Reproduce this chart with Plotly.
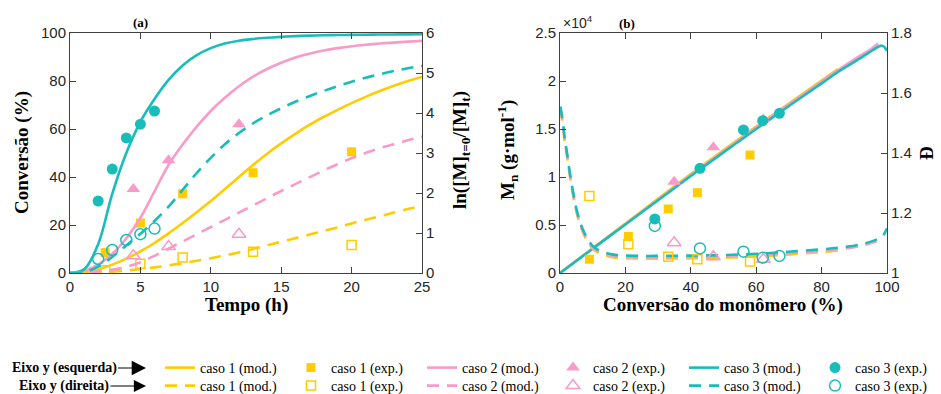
import plotly.graph_objects as go

W, H = 941, 394
YELLOW = '#FFCC00'
PINK = '#F99BC9'
TEAL = '#18BDB9'

# ---------------- Panel (a) data ----------------
t_mod = [0, 1, 2, 3, 4, 5, 6, 7, 8, 9, 10, 11, 12, 13, 14, 15, 16, 17, 18, 19, 20, 21, 22, 23, 24, 25]
# model curves, conversion (%) vs time (h)
c1_mod = [0, 0.3, 1.5, 3.5, 6, 9, 12.5, 16.5, 20.8, 25.3, 30, 35, 40, 45, 49.7, 54, 58, 61.7, 65, 68,
          70.8, 73.4, 75.8, 78, 80, 81.7]
c2_mod = [0, 0.8, 3.5, 8, 14.5, 23, 34, 45, 53.5, 61, 67.5, 73, 77.8, 81.8, 85, 87.6, 89.8, 91.4, 92.7,
          93.7, 94.5, 95.1, 95.6, 96.0, 96.4, 96.7]
c3_mod = [0, 1.5, 12, 33, 50, 63, 72.5, 80.5, 86.5, 90.8, 93.7, 95.6, 96.8, 97.5, 98.0, 98.4, 98.7, 98.9,
          99.05, 99.15, 99.2, 99.3, 99.35, 99.4, 99.42, 99.45]
# model curves, ln([M]0/[M]t) vs time (h)
l1_mod = [0, 0, 0.01, 0.03, 0.06, 0.1, 0.14, 0.19, 0.245, 0.305, 0.37, 0.44, 0.515, 0.6, 0.69, 0.78, 0.87,
          0.96, 1.05, 1.14, 1.24, 1.33, 1.42, 1.51, 1.6, 1.68]
l2_mod = [0, 0.01, 0.04, 0.08, 0.15, 0.27, 0.43, 0.61, 0.79, 0.97, 1.15, 1.33, 1.51, 1.69, 1.87, 2.05, 2.22,
          2.39, 2.56, 2.72, 2.87, 3.0, 3.12, 3.22, 3.32, 3.41]
l3_mod = [0, 0.02, 0.16, 0.4, 0.69, 0.98, 1.3, 1.66, 2.08, 2.5, 2.88, 3.22, 3.5, 3.74, 3.94, 4.12, 4.28,
          4.42, 4.55, 4.67, 4.78, 4.88, 4.97, 5.05, 5.12, 5.18]

# experimental points
t1_exp = [2.5, 5, 8, 13, 20]
c1_exp = [8.5, 20.8, 33, 41.8, 50.5]
l1_exp = [0.07, 0.23, 0.39, 0.53, 0.70]
t2_exp = [4.5, 7, 12]
c2_exp = [35, 47, 62]
l2_exp = [0.43, 0.66, 0.97]
t3_exp = [2, 3, 4, 5, 6]
c3_exp = [30, 43.3, 56.3, 62, 67.5]
l3_exp = [0.35, 0.575, 0.825, 0.97, 1.11]

# ---------------- Panel (b) data ----------------
x1_mn = [0, 20, 40, 60, 85]
mn1_mod = [0, 5150, 10300, 15250, 21250]
x2_mn = [0, 20, 40, 60, 80, 90, 95, 97.3]
mn2_mod = [0, 5100, 10200, 15150, 19950, 22250, 23300, 23900]
x3_mn = [0, 10, 20, 30, 40, 50, 60, 70, 80, 85, 90, 94, 96, 97.5, 98.4, 99.2, 100]
mn3_mod = [0, 2530, 5060, 7580, 10100, 12560, 15000, 17400, 19750, 20950, 22000, 22850, 23300, 23600,
           23680, 23550, 23150]

x1_d = [0.1, 0.5, 1, 1.5, 2, 3, 4, 5, 6, 7, 8, 9, 10, 12, 14, 16, 18, 20, 25, 30, 40, 50, 60, 70, 80, 85]
d1_mod = [1.546, 1.521, 1.481, 1.434, 1.401, 1.326, 1.261, 1.206, 1.166, 1.136, 1.113, 1.095, 1.081,
          1.066, 1.058, 1.053, 1.050, 1.049, 1.048, 1.048, 1.049, 1.051, 1.055, 1.062, 1.070, 1.075]
x2_d = [0.1, 0.5, 1, 1.5, 2, 3, 4, 5, 6, 7, 8, 9, 10, 12, 14, 16, 18, 20, 25, 30, 40, 50, 60, 70, 80, 85,
        90, 93, 96, 97.3]
d2_mod = [1.550, 1.525, 1.485, 1.438, 1.405, 1.330, 1.265, 1.210, 1.170, 1.140, 1.117, 1.099, 1.085,
          1.070, 1.062, 1.057, 1.054, 1.053, 1.052, 1.052, 1.053, 1.055, 1.059, 1.066, 1.074, 1.079,
          1.086, 1.093, 1.103, 1.108]
x3_d = [0.1, 0.5, 1, 1.5, 2, 3, 4, 5, 6, 7, 8, 9, 10, 12, 14, 16, 18, 20, 25, 30, 40, 50, 60, 70, 80,
        85, 90, 93, 96, 98, 99, 100]
d3_mod = [1.555, 1.530, 1.490, 1.443, 1.410, 1.335, 1.270, 1.215, 1.175, 1.145, 1.122, 1.104, 1.090,
          1.075, 1.067, 1.062, 1.059, 1.058, 1.057, 1.057, 1.058, 1.060, 1.064, 1.071, 1.079, 1.084,
          1.091, 1.098, 1.108, 1.118, 1.128, 1.149]

x1_bexp = [9, 20.9, 33.1, 42, 58.1]
mn1_exp = [1430, 3800, 6670, 8370, 12290]
d1_exp = [1.257, 1.096, 1.054, 1.046, 1.038]
x2_bexp = [34.9, 46.9, 62.2]
mn2_exp = [9510, 13090, 16000]
d2_exp = [1.101, 1.054, 1.046]
x3_bexp = [29, 42.8, 56.1, 62, 67.1]
mn3_exp = [5630, 10900, 14900, 15870, 16630]
d3_exp = [1.157, 1.082, 1.071, 1.051, 1.057]

x_ticks_a = [0, 5, 10, 15, 20, 25]
y_ticks_a = [0, 20, 40, 60, 80, 100]
y2_ticks_a = [0, 1, 2, 3, 4, 5, 6]
x_ticks_b = [0, 20, 40, 60, 80, 100]
y_ticks_b = [0, 5000, 10000, 15000, 20000, 25000]
y_ticktext_b = ['0', '0.5', '1', '1.5', '2', '2.5']
y2_ticks_b = [1, 1.2, 1.4, 1.6, 1.8]
y2_ticktext_b = ['1', '1.2', '1.4', '1.6', '1.8']

LW = 2.6
DASH = '12px,8px'

fig = go.Figure()

def line(x, y, color, dash, xa, ya, name, legend, show):
    fig.add_trace(go.Scatter(x=x, y=y, mode='lines', name=name,
                             line=dict(color=color, width=LW, dash=dash, shape='spline', smoothing=1.0),
                             xaxis=xa, yaxis=ya, legend=legend, showlegend=show))

def pts(x, y, color, symbol, size, xa, ya, name, legend, show, open_=False):
    marker = dict(symbol=symbol, size=size, color=color)
    marker['line'] = dict(color=color, width=1.5) if open_ else dict(width=0)
    fig.add_trace(go.Scatter(x=x, y=y, mode='markers', name=name, marker=marker,
                             xaxis=xa, yaxis=ya, legend=legend, showlegend=show))

# Row 1 legend (left axis): solid + filled
line(t_mod, c1_mod, YELLOW, 'solid', 'x', 'y', 'caso 1 (mod.)', 'legend', True)
pts(t1_exp, c1_exp, YELLOW, 'square', 9, 'x', 'y', 'caso 1 (exp.)', 'legend', True)
line(t_mod, c2_mod, PINK, 'solid', 'x', 'y', 'caso 2 (mod.)', 'legend', True)
pts(t2_exp, c2_exp, PINK, 'triangle-up', 12, 'x', 'y', 'caso 2 (exp.)', 'legend', True)
line(t_mod, c3_mod, TEAL, 'solid', 'x', 'y', 'caso 3 (mod.)', 'legend', True)
pts(t3_exp, c3_exp, TEAL, 'circle', 11, 'x', 'y', 'caso 3 (exp.)', 'legend', True)

# Row 2 legend (right axis): dashed + open
line(t_mod, l1_mod, YELLOW, DASH, 'x', 'y2', 'caso 1 (mod.)', 'legend2', True)
pts(t1_exp, l1_exp, YELLOW, 'square-open', 9, 'x', 'y2', 'caso 1 (exp.)', 'legend2', True, True)
line(t_mod, l2_mod, PINK, DASH, 'x', 'y2', 'caso 2 (mod.)', 'legend2', True)
pts(t2_exp, l2_exp, PINK, 'triangle-up-open', 12, 'x', 'y2', 'caso 2 (exp.)', 'legend2', True, True)
line(t_mod, l3_mod, TEAL, DASH, 'x', 'y2', 'caso 3 (mod.)', 'legend2', True)
pts(t3_exp, l3_exp, TEAL, 'circle-open', 11, 'x', 'y2', 'caso 3 (exp.)', 'legend2', True, True)

# Panel (b)
line(x1_d, d1_mod, YELLOW, DASH, 'x2', 'y4', '', 'legend', False)
line(x2_d, d2_mod, PINK, DASH, 'x2', 'y4', '', 'legend', False)
line(x3_d, d3_mod, TEAL, DASH, 'x2', 'y4', '', 'legend', False)
line(x1_mn, mn1_mod, YELLOW, 'solid', 'x2', 'y3', '', 'legend', False)
line(x2_mn, mn2_mod, PINK, 'solid', 'x2', 'y3', '', 'legend', False)
line(x3_mn, mn3_mod, TEAL, 'solid', 'x2', 'y3', '', 'legend', False)
pts(x1_bexp, mn1_exp, YELLOW, 'square', 9, 'x2', 'y3', '', 'legend', False)
pts(x2_bexp, mn2_exp, PINK, 'triangle-up', 12, 'x2', 'y3', '', 'legend', False)
pts(x3_bexp, mn3_exp, TEAL, 'circle', 11, 'x2', 'y3', '', 'legend', False)
pts(x1_bexp, d1_exp, YELLOW, 'square-open', 9, 'x2', 'y4', '', 'legend', False, True)
pts(x2_bexp, d2_exp, PINK, 'triangle-up-open', 12, 'x2', 'y4', '', 'legend', False, True)
pts(x3_bexp, d3_exp, TEAL, 'circle-open', 11, 'x2', 'y4', '', 'legend', False, True)

TICKFONT = dict(family='Liberation Sans, Arial', size=15, color='#262626')
AX = dict(showgrid=False, zeroline=False, showline=True, linecolor='#404040', linewidth=1,
          ticks='inside', ticklen=6, tickcolor='#404040', tickfont=TICKFONT)

ydom = [1 - 273 / H, 1 - 33 / H]
LEG = dict(orientation='h', x=160 / W, xanchor='left', yanchor='middle',
           font=dict(family='Liberation Serif', size=14, color='black'),
           entrywidth=86, entrywidthmode='pixels', bgcolor='rgba(0,0,0,0)', itemwidth=30)
fig.update_layout(
    width=W, height=H, margin=dict(l=0, r=0, t=0, b=0, autoexpand=False),
    paper_bgcolor='white', plot_bgcolor='white', showlegend=True,
    xaxis=dict(AX, domain=[70 / W, 422 / W], range=[0, 25], tickvals=x_ticks_a, anchor='y', mirror='ticks'),
    yaxis=dict(AX, domain=ydom, range=[0, 100], tickvals=y_ticks_a, anchor='x'),
    yaxis2=dict(AX, domain=ydom, range=[0, 6], tickvals=y2_ticks_a, anchor='x', overlaying='y', side='right'),
    xaxis2=dict(AX, domain=[560 / W, 887 / W], range=[0, 100], tickvals=x_ticks_b, anchor='y3', mirror='ticks'),
    yaxis3=dict(AX, domain=ydom, range=[0, 25000], tickvals=y_ticks_b, ticktext=y_ticktext_b, anchor='x2'),
    yaxis4=dict(AX, domain=ydom, range=[1, 1.8], tickvals=y2_ticks_b, ticktext=y2_ticktext_b,
                anchor='x2', overlaying='y3', side='right'),
    legend=dict(LEG, y=1 - 368 / H),
    legend2=dict(LEG, y=1 - 386 / H),
)

SERIFB = dict(family='Liberation Serif', size=19, color='black')
ann = []
def A(text, x, y, angle=0, font=SERIFB):
    ann.append(dict(text=text, x=x / W, y=1 - y / H, xref='paper', yref='paper', showarrow=False,
                    textangle=angle, font=font, xanchor='center', yanchor='middle'))

A('<b>Conversão (%)</b>', 22, 153, -90)
A('<b>ln([M]<sub>t=0</sub>/[M]<sub>t</sub>)</b>', 461, 150, -90)
A('<b>Tempo (h)</b>', 246, 305)
A('<b>M<sub>n</sub> (g·mol<sup>-1</sup>)</b>', 508, 150, -90)
A('<b>Đ</b>', 926, 153, -90)
A('<b>Conversão do monômero (%)</b>', 723, 305)
A('<b>(a)</b>', 140, 22, font=dict(family='Liberation Serif', size=13, color='black'))
A('<b>(b)</b>', 627, 23, font=dict(family='Liberation Serif', size=13, color='black'))
A('×10<sup>4</sup>', 578, 22, font=dict(family='Liberation Sans, Arial', size=14, color='#262626'))

for label, yy, size in [('<b>Eixo y (esquerda)</b>', 368, 2.6), ('<b>Eixo y (direita)</b>', 386, 2.2)]:
    ann.append(dict(text=label, x=146 / W, y=1 - yy / H, xref='paper', yref='paper',
                    showarrow=True, ax=-82, ay=0, axref='pixel', ayref='pixel',
                    arrowhead=2, arrowsize=size, arrowwidth=1.1, arrowcolor='black', standoff=0,
                    font=dict(family='Liberation Serif', size=14, color='black')))

fig.update_layout(annotations=ann)
fig.write_html('out.html')
